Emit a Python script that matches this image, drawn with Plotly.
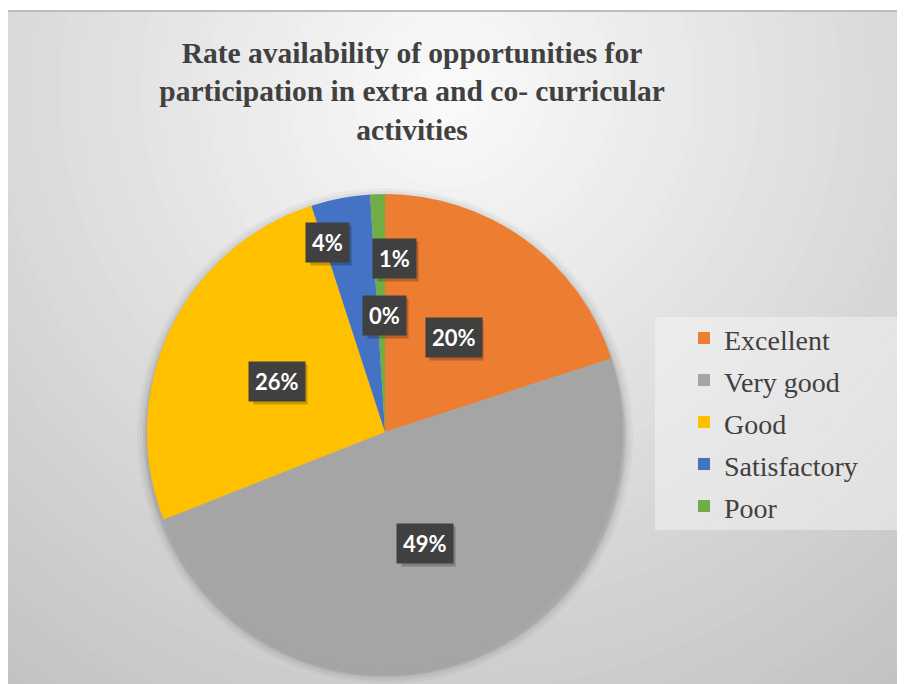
import math
import plotly.graph_objects as go

# ---- data ----
categories = ["Excellent", "Very good", "Good", "Satisfactory", "Poor"]
values = [20, 49, 26, 4, 1]
colors = ["#ED7D31", "#A5A5A5", "#FFC000", "#4472C4", "#70AD47"]
# Excel data labels (includes a blank zero-valued category after "Poor")
label_pcts = [20, 49, 26, 4, 1, 0]
title_text = "Rate availability of opportunities for<br>participation in extra and co- curricular<br>activities"

# ---- layout constants (screen pixels of the reference) ----
W, H = 905, 684
OX, OY = 8, 8          # page body margin offset
cx, cy, R = 385, 432, 238
label_rf = [0.49, 0.50, 0.50, 0.83, 0.73, 0.49]
label_shift = [0, 0, 0, -6, 5, 0]


def fx(px):
    return (px - OX) / W


def fy(py):
    return 1 - (py - OY) / H


fig = go.Figure()
fig.add_trace(go.Pie(
    labels=[f"<span style='font-size:28px'>{c}</span>" for c in categories],
    values=values, sort=False, direction="clockwise", rotation=0,
    marker=dict(colors=colors, line=dict(width=0)),
    textinfo="none", hoverinfo="percent",
    domain=dict(x=[fx(cx - R), fx(cx + R)], y=[fy(cy + R), fy(cy - R)]),
))

shapes = []
# radial gradient background approximation
gx, gy = 450, 90
steps = 48
rmax = 780
for i in range(steps):
    rr = rmax * (1 - i / steps)
    t = rr / rmax
    c = int(round(251 - (251 - 192) * t))
    shapes.append(dict(type="circle", xref="paper", yref="paper", layer="below",
                       x0=fx(gx - rr), x1=fx(gx + rr), y0=fy(gy + rr), y1=fy(gy - rr),
                       fillcolor=f"rgb({c},{c},{c})", line=dict(width=0)))
# white top strip and frame line
shapes.append(dict(type="rect", xref="paper", yref="paper", layer="below", x0=-0.01, x1=1.01,
                   y0=fy(10), y1=1.01, fillcolor="white", line=dict(width=0)))
shapes.append(dict(type="line", xref="paper", yref="paper", layer="below", x0=0, x1=1,
                   y0=fy(11), y1=fy(11), line=dict(color="#bdbdbd", width=2)))
# soft pie shadow
for dr, op in [(10, 0.03), (7, 0.04), (4, 0.06), (2, 0.08)]:
    rr = R + dr
    oy = 4
    shapes.append(dict(type="circle", xref="paper", yref="paper", layer="below",
                       x0=fx(cx - rr), x1=fx(cx + rr), y0=fy(cy + oy + rr), y1=fy(cy + oy - rr),
                       fillcolor=f"rgba(0,0,0,{op})", line=dict(width=0)))
# legend panel
shapes.append(dict(type="rect", xref="paper", yref="paper", layer="below",
                   x0=fx(655), x1=fx(913), y0=fy(530), y1=fy(317),
                   fillcolor="rgba(245,245,245,0.5)", line=dict(width=0)))

# data labels
annotations = []
cum = 0
mids = []
for i, p in enumerate(label_pcts):
    v = values[i] if i < len(values) else 0
    mids.append((cum + v / 2) / sum(values) * 360)
    cum += v
for shadow in (True, False):
    for i, p in enumerate(label_pcts):
        th = math.radians(mids[i] + label_shift[i])
        px = cx + label_rf[i] * R * math.sin(th)
        py = cy - label_rf[i] * R * math.cos(th)
        if shadow:
            # blank text of the same width: figure spaces for digits, extra for '%'
            txt = "\u2007" * (len(str(p)) + 1) + "\u2009"
        else:
            txt = f"<b>{p}%</b>"
        annotations.append(dict(
            x=fx(px), y=fy(py), xref="paper", yref="paper", showarrow=False,
            xanchor="center", yanchor="middle",
            text=txt,
            font=dict(family="Lato", size=22, color="white"),
            bgcolor="rgba(0,0,0,0.22)" if shadow else "#404040",
            borderpad=6, xshift=3 if shadow else 0, yshift=-3 if shadow else 0,
        ))

fig.update_layout(
    width=W, height=H, margin=dict(l=0, r=0, t=0, b=0),
    paper_bgcolor="rgb(192,192,192)", plot_bgcolor="rgba(0,0,0,0)",
    title=dict(text=f"<b>{title_text}</b>", x=fx(412), xanchor="center", y=1 - 55 / H, yanchor="top",
               yref="container",
               font=dict(family="Liberation Serif", size=29.5, color="#404040")),
    legend=dict(x=fx(724 - 40), y=fy(312), xanchor="left", yanchor="top",
                bgcolor="rgba(0,0,0,0)", borderwidth=0,
                font=dict(family="Liberation Serif", size=30, color="#404040"),
                traceorder="normal"),
    shapes=shapes, annotations=annotations,
)
fig.write_html("out.html")
